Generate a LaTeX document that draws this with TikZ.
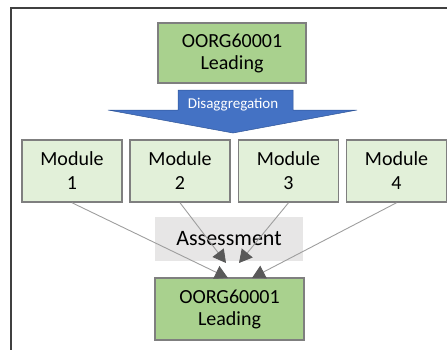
\documentclass[tikz,border=0pt]{standalone}
\usepackage{fontspec}
\setmainfont{Carlito}
\usetikzlibrary{arrows.meta}
\definecolor{darkgreen}{HTML}{A9D18E}
\definecolor{lightgreen}{HTML}{E2F0D9}
\definecolor{boxborder}{HTML}{7F7F7F}
\definecolor{arrowblue}{HTML}{4472C4}
\definecolor{arrowblueedge}{HTML}{2F5597}
\definecolor{assessgray}{HTML}{E7E6E6}
\definecolor{linegray}{HTML}{9E9E9E}
\definecolor{tipgray}{HTML}{595959}
\definecolor{framegray}{HTML}{404040}
\tikzset{
  leadbox/.style={draw=boxborder, line width=1.5pt, fill=darkgreen, minimum width=148pt, minimum height=60pt, inner sep=0pt, align=center, font=\fontsize{20}{22}\selectfont},
  modbox/.style={draw=boxborder, line width=1.5pt, fill=lightgreen, minimum width=100pt, minimum height=62pt, inner sep=0pt, align=center, font=\fontsize{20}{24}\selectfont},
  conn/.style={draw=linegray, line width=0.9pt, -{Triangle[length=13pt,width=14pt,fill=tipgray,color=tipgray]}},
}
\begin{document}
\begin{tikzpicture}[x=1pt,y=-1pt]
\useasboundingbox (0,0) rectangle (447,349);
\clip (0,0) rectangle (447,349);
% frame
\draw[framegray, line width=1.5pt] (11,360) -- (11,8) -- (460,8);
% top box
\node[leadbox] (top) at (232,53) {OORG60001\\Leading};
% disaggregation arrow
\fill[arrowblue, draw=arrowblueedge, line width=0.5pt] (178,90) -- (293,90) -- (293,110) -- (357,110) -- (233,133) -- (108,110) -- (178,110) -- cycle;
\node[text=white, font=\fontsize{15}{18}\selectfont, inner sep=0pt] (dis) at (233,105) {Disaggregation};
% modules
\node[modbox] (m1) at (72,171) {Module\\1};
\node[modbox] (m2) at (180,171) {Module\\2};
\node[modbox] (m3) at (288.5,171) {Module\\3};
\node[modbox] (m4) at (396.5,171) {Module\\4};
% assessment
\node[fill=assessgray, minimum width=148pt, minimum height=44pt, inner sep=0pt, font=\fontsize{22}{26}\selectfont] (assess) at (229,239) {Assessment};
% bottom box
\node[leadbox, minimum width=149pt, minimum height=62pt] (bot) at (229.5,309) {OORG60001\\Leading};
% connector ends
\coordinate (e1) at (228,278);
\coordinate (e2) at (226,263);
\coordinate (e3) at (239,263);
\coordinate (e4) at (252,278);
\draw[conn] (m1.south) -- (e1);
\draw[conn] (m2.south) -- (e2);
\draw[conn] (m3.south) -- (e3);
\draw[conn] (m4.south) -- (e4);
\end{tikzpicture}
\end{document}
